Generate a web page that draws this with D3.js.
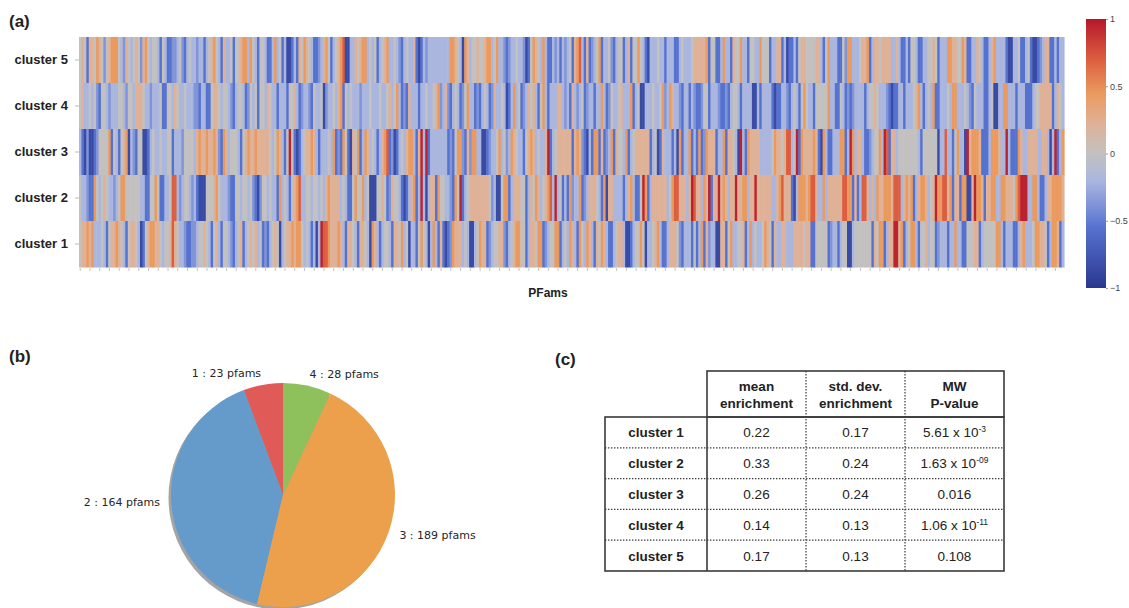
<!DOCTYPE html>
<html>
<head>
<meta charset="utf-8">
<script src="https://cdn.jsdelivr.net/npm/d3@7"></script>
<style>
  body { margin: 0; background: #fff; }
  svg { display: block; }
</style>
</head>
<body>
<div id="chart"></div>
<script>
const WIDTH = 1129, HEIGHT = 608;
const SANS = '"Helvetica Neue", Helvetica, Arial, "Liberation Sans", sans-serif';

// ---- (a) heatmap data ----
// one letter per pfam column: a = -1 ... e = 0 ... i = +1
const levelValues = { a: -0.85, b: -0.55, c: -0.38, d: -0.2, e: 0, f: 0.22, g: 0.45, h: 0.7, i: 0.95 };
const clusters = ['cluster 5', 'cluster 4', 'cluster 3', 'cluster 2', 'cluster 1'];

const cluster5Row = [
  'efebffegfecefgggedcfedefecfgedeedbedbbccdecbdeddcd',
  'dbdefgedbfddebeefggdgedbeedbbdgdebdaabdbfegfedbbcd',
  'fgebdefghaaddfefggdedebdefgddedcbdeddfbabdcddddddd',
  'ddggfedagfdeefeefggdegddcbcddeddcabegfedgdbbdcdbdc',
  'debfghdbfbcdegbddecbdeebdfbeegedbadddeddbdddbbdedd',
  'defffffgbeebbdgddbfeegddbeeddgeeebddffbdabbdbeffee',
  'eeffdbegdddbbecggdddeffgbdffeffffddfdbbdbeedbbddee',
  'febdddggffeegfbbddfedbbdfgddddbaaddebbdebaabcdffbbdbdd'
].join('');
const cluster4Row = [
  'efddedecbeedcdddeedceedfffeddcdddebbeedfeddedddccb',
  'ddbbeffedeedcbdeedbcedebeedfeddbdddbeefdbcddcbedde',
  'acddedfgbededddcdddedddeddefdegdbcbfdddbddeddefgcd',
  'fcbdedbcegddbcbdedbcfddedabdgdebcdfefdbegdbdddffdc',
  'dbfdcdebcddbddgdbceddefdddgbdeaadddeddegcdgfddcbdd',
  'bdcbbceebdddcbbcbdeedbddddaadbddddbabbddcbdedbeged',
  'dbeeeeegddbbedbcbcddddbdeefedddcbabbddbdddefgdbded',
  'gbbdddedggdddedcbedddbbdeaaddggdddbdddbbbdeefffffbdfed'
].join('');
const cluster3Row = [
  'dbacaabceeeegbedbefgadcbeeaabdeddeddeebdddceeeedfg',
  'ffgffgfcbgfdeeedbefgffgfffffedegfdbeiebabdeffgfdbd',
  'ddedgbcbgebafegbdgfdedbdfghbcabdedfggdbfidibdddddd',
  'dbcbeggcbfcggddaabcddegdecdgfeddbefgfdeddfibdeffff',
  'ffbfgfcbadbggbfbcdgbfeedgbdeffffffbdeabfdddbdagbdd',
  'gbdbgbcgfffbddgbffedaidbgffffdddddegffefhhdeibgfff',
  'fgfbagdbbdddggbdigdffdbbcdeegdihbffdeeeeeeeedbeeee',
  'eeaddhddbegddaifgggfbbbdgggfddidbbbgfddffffddffdadibdg'
].join('');
const cluster2Row = [
  'eddcbbgedefeddcdeggeeeeeeddbbeegebbddehhdcdeedcdba',
  'aaeeefgedddcbbeedeedecbaceededdbgdedbefghddeedeede',
  'dfgffffdedbbegeegdeaaaeefebcfeedbabdfgbdidadffbgee',
  'ddcbgeibdeffffffffecdaaeggbdfffeebdfegfdefghdidebd',
  'bgcddgbcdfffedbgaffddddbdfgdbbeigbdffffffdeghhfffd',
  'fihffdgfibffifgfdffiffggdffiffffffddfghfffbadgggfg',
  'hhfddgdffffffhhggbfbdhhfdfdgffgggfhhhdfgfgbdfggfde',
  'figghhfgbffbggaafiggfbffggddggfffeghiiiddggdbbdffggggf'
].join('');
const cluster1Row = [
  'effgfgdddedbeffgfedbeffedabefggffedeefhfeddcbbccde',
  'efedbefdbeedcbdefbdefefdebcbdefeadeffgfggededbdadi',
  'hhgfffgfdbffedbffedagfdbdeedbffegdeaddbegedadgdbfb',
  'abcgfffdedaadegffbcdeeffcbdefggeebdffeggbcdeeggbde',
  'dgfdbgedgfdbfegfdbbdeffdaabdeegeaddefgdbbdfffecbdd',
  'dbebdgbfcddaaffbegddeefbdgdeddegfebfddffdddffffeff',
  'bbeeeeebcddbdeeaadeeeeeeebfeggbdffiifgbdeggdbeefde',
  'ebcdddbddgddbbeeeffbdeeeeeggdbdddbbdfgdddeggffebdggfbd'
].join('');
const heatRows = [cluster5Row, cluster4Row, cluster3Row, cluster2Row, cluster1Row];
const nCols = 404;
const colorTicks = [1, 0.5, 0, -0.5, -1];

// ---- (b) pie data ----
const pieLabels = ['1', '2', '3', '4'];
const pieCounts = [23, 164, 189, 28];
const pieColors = ['#e05b58', '#649bca', '#eda04b', '#8ec15b'];

// ---- (c) table data ----
const tableHeaders = [['mean', 'enrichment'], ['std. dev.', 'enrichment'], ['MW', 'P-value']];
const tableClusters = ['cluster 1', 'cluster 2', 'cluster 3', 'cluster 4', 'cluster 5'];
const meanEnrichment = ['0.22', '0.33', '0.26', '0.14', '0.17'];
const stdEnrichment = ['0.17', '0.24', '0.24', '0.13', '0.13'];
const pValueBase = ['5.61 x 10', '1.63 x 10', '0.016', '1.06 x 10', '0.108'];
const pValueExp = ['-3', '-09', '', '-11', ''];

const color = d3.scaleLinear()
  .domain([-1, -0.55, -0.38, -0.2, 0, 0.22, 0.45, 0.7, 1])
  .range(['#2a3790', '#5672cf', '#8094d8', '#abb6de', '#c2c1c0', '#dfb197', '#ea9a5e', '#dc5e40', '#b4182b'])
  .clamp(true);

const svg = d3.select('#chart').append('svg')
  .attr('width', WIDTH)
  .attr('height', HEIGHT)
  .style('font-family', SANS);

const panelLabel = (text, px, py) => svg.append('text')
  .attr('x', px).attr('y', py)
  .attr('font-size', 17).attr('font-weight', 'bold')
  .attr('fill', '#222')
  .text(text);

// ================= (a) heatmap =================
panelLabel('(a)', 9, 27);

const x = d3.scaleBand().domain(d3.range(nCols)).range([79, 1064]);
const y = d3.scaleBand().domain(clusters).range([37, 267]);

const cells = [];
heatRows.forEach((row, r) => {
  for (let i = 0; i < nCols; i += 1) {
    cells.push({ cluster: clusters[r], col: i, value: levelValues[row[i] || 'e'] });
  }
});

svg.append('g')
  .selectAll('rect')
  .data(cells)
  .join('rect')
  .attr('x', d => x(d.col))
  .attr('y', d => y(d.cluster))
  .attr('width', x.bandwidth() + 0.6)
  .attr('height', y.bandwidth() + 0.5)
  .attr('fill', d => color(d.value));

const yAxis = svg.append('g')
  .attr('transform', 'translate(79,0)')
  .call(d3.axisLeft(y).tickSize(4).tickPadding(7));
yAxis.select('.domain').remove();
yAxis.selectAll('line').attr('stroke', '#bbb');
yAxis.selectAll('text')
  .attr('font-size', 13).attr('font-weight', 'bold')
  .attr('fill', '#222').style('font-family', SANS);

const xAxis = svg.append('g')
  .attr('transform', 'translate(0,268)')
  .call(d3.axisBottom(x).tickValues(d3.range(0, nCols, 4)).tickSize(3).tickFormat(''));
xAxis.select('.domain').remove();
xAxis.selectAll('line').attr('stroke', '#c4c4c4');

svg.append('text')
  .attr('x', 548).attr('y', 297)
  .attr('text-anchor', 'middle')
  .attr('font-size', 12).attr('font-weight', 'bold')
  .attr('fill', '#222')
  .text('PFams');

// colour bar
const cbar = d3.scaleLinear().domain([-1, 1]).range([288, 19]);
const grad = svg.append('defs').append('linearGradient')
  .attr('id', 'cbar').attr('x1', 0).attr('y1', 1).attr('x2', 0).attr('y2', 0);
grad.selectAll('stop')
  .data(d3.range(-1, 1.001, 0.05))
  .join('stop')
  .attr('offset', d => (d + 1) / 2)
  .attr('stop-color', d => color(d));
svg.append('rect')
  .attr('x', 1086).attr('y', cbar(1))
  .attr('width', 20).attr('height', cbar(-1) - cbar(1))
  .attr('fill', 'url(#cbar)');
const cAxis = svg.append('g')
  .attr('transform', 'translate(1106,0)')
  .call(d3.axisRight(cbar).tickValues(colorTicks).tickSize(2).tickPadding(2).tickFormat(d3.format('')));
cAxis.select('.domain').remove();
cAxis.selectAll('line').attr('stroke', '#999');
cAxis.selectAll('text').attr('font-size', 9).attr('fill', '#444').style('font-family', SANS);

// ================= (b) pie =================
panelLabel('(b)', 9, 362);

const cx = 283, cy = 495, radius = 112;
const pie = d3.pie().sort(null).startAngle(0).endAngle(-2 * Math.PI);
const arcs = pie(pieCounts);
const arc = d3.arc().innerRadius(0).outerRadius(radius);

const pg = svg.append('g').attr('transform', `translate(${cx},${cy})`);
pg.append('circle')
  .attr('cx', -2.5).attr('cy', 2.5).attr('r', radius)
  .attr('fill', '#5a5a5a').attr('opacity', 0.55);
pg.selectAll('path')
  .data(arcs)
  .join('path')
  .attr('d', arc)
  .attr('fill', (d, i) => pieColors[i]);
pg.selectAll('text')
  .data(arcs)
  .join('text')
  .each(function (d, i) {
    const mid = (d.startAngle + d.endAngle) / 2;
    const r = radius * 1.1;
    d3.select(this)
      .attr('x', Math.sin(mid) * r)
      .attr('y', -Math.cos(mid) * r)
      .attr('text-anchor', Math.sin(mid) < 0 ? 'end' : 'start')
      .attr('dominant-baseline', 'central')
      .text(`${pieLabels[i]} : ${pieCounts[i]} pfams`);
  })
  .attr('font-size', 11)
  .attr('fill', '#262626')
  .style('font-family', '"DejaVu Sans", sans-serif');

// ================= (c) table =================
panelLabel('(c)', 555, 365);

const colBand = d3.scaleBand().domain(d3.range(tableHeaders.length)).range([707, 1004]);
const rowBand = d3.scaleBand().domain(tableClusters).range([417, 571]);
const labelLeft = 605, headTop = 371;
const tg = svg.append('g').attr('font-size', 13.5).attr('fill', '#222');
const lineColor = '#3a3a3a';

// dotted inner grid
tableClusters.slice(1).forEach(c => {
  tg.append('line')
    .attr('x1', labelLeft).attr('x2', 1004)
    .attr('y1', rowBand(c)).attr('y2', rowBand(c))
    .attr('stroke', lineColor).attr('stroke-width', 1.2)
    .attr('stroke-dasharray', '1.4,1.6');
});
d3.range(1, tableHeaders.length).forEach(j => {
  tg.append('line')
    .attr('x1', colBand(j)).attr('x2', colBand(j))
    .attr('y1', headTop).attr('y2', 571)
    .attr('stroke', lineColor).attr('stroke-width', 1.2)
    .attr('stroke-dasharray', '1.4,1.6');
});
// solid frames
tg.append('rect')
  .attr('x', 707).attr('y', headTop)
  .attr('width', 1004 - 707).attr('height', 417 - headTop)
  .attr('fill', 'none').attr('stroke', lineColor).attr('stroke-width', 1.6);
tg.append('rect')
  .attr('x', labelLeft).attr('y', 417)
  .attr('width', 1004 - labelLeft).attr('height', 571 - 417)
  .attr('fill', 'none').attr('stroke', lineColor).attr('stroke-width', 1.6);
tg.append('line')
  .attr('x1', 707).attr('x2', 707).attr('y1', 417).attr('y2', 571)
  .attr('stroke', lineColor).attr('stroke-width', 1.6);

// header
tableHeaders.forEach((lines, j) => {
  lines.forEach((ln, k) => {
    tg.append('text')
      .attr('x', colBand(j) + colBand.bandwidth() / 2)
      .attr('y', 391 + k * 17)
      .attr('text-anchor', 'middle')
      .attr('font-weight', 'bold')
      .text(ln);
  });
});

// body
const colValues = [meanEnrichment, stdEnrichment];
tableClusters.forEach((c, r) => {
  const ty = rowBand(c) + rowBand.bandwidth() / 2 + 5;
  tg.append('text')
    .attr('x', (labelLeft + 707) / 2).attr('y', ty)
    .attr('text-anchor', 'middle').attr('font-weight', 'bold')
    .text(c);
  colValues.forEach((vals, j) => {
    tg.append('text')
      .attr('x', colBand(j) + colBand.bandwidth() / 2).attr('y', ty)
      .attr('text-anchor', 'middle')
      .text(vals[r]);
  });
  const pt = tg.append('text')
    .attr('x', colBand(2) + colBand.bandwidth() / 2).attr('y', ty)
    .attr('text-anchor', 'middle');
  pt.append('tspan').text(pValueBase[r]);
  if (pValueExp[r]) {
    pt.append('tspan').attr('dy', -5).attr('font-size', 8.5).text(pValueExp[r]);
  }
});
</script>
</body>
</html>
